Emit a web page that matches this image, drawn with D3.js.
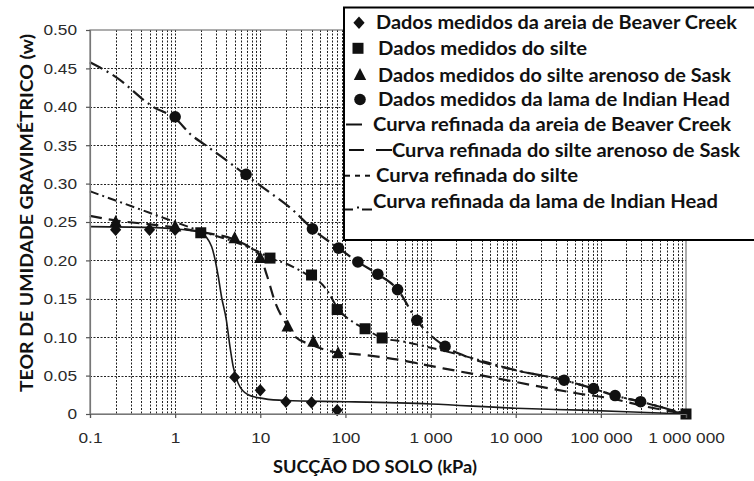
<!DOCTYPE html>
<html>
<head>
<meta charset="utf-8">
<script src="https://cdn.jsdelivr.net/npm/d3@7"></script>
<style>
  html, body { margin: 0; padding: 0; background: #fff; }
  svg { display: block; }
</style>
</head>
<body>
<svg id="chart" width="754" height="481"></svg>
<script>
// Tick labels
const xTickValues = [0.1, 1, 10, 100, 1000, 10000, 100000, 1000000];
const xTickLabels = ["0.1", "1", "10", "100", "1 000", "10 000", "100 000", "1 000 000"];
const yTickValues = [0, 0.05, 0.10, 0.15, 0.20, 0.25, 0.30, 0.35, 0.40, 0.45, 0.50];
const yTickLabels = ["0", "0.05", "0.10", "0.15", "0.20", "0.25", "0.30", "0.35", "0.40", "0.45", "0.50"];

// Measured data (suction kPa, gravimetric water content)
const beaverSuction = [0.2, 0.5, 1, 5, 10, 20, 40, 80];
const beaverW       = [0.240, 0.240, 0.240, 0.048, 0.031, 0.016, 0.015, 0.005];
const silteSuction  = [2, 13, 40, 80, 170, 270, 1000000];
const silteW        = [0.236, 0.203, 0.181, 0.136, 0.111, 0.099, 0.0];
const saskSuction   = [0.2, 1, 5, 10, 21, 42, 82];
const saskW         = [0.250, 0.244, 0.229, 0.203, 0.114, 0.094, 0.079];
const indianSuction = [1, 6.8, 41, 83, 140, 240, 410, 690, 1480, 37000, 82000, 147000, 293000];
const indianW       = [0.387, 0.312, 0.241, 0.216, 0.198, 0.182, 0.162, 0.122, 0.088, 0.044, 0.033, 0.024, 0.016];

// Fitted curves
const beaverFitSuction = [0.1, 0.5, 1, 1.5, 2, 2.68, 3.2, 3.5, 4.0, 4.4, 4.8, 5.5, 7.2, 11, 20, 100, 1000, 10000, 60000, 200000, 1000000];
const beaverFitW       = [0.244, 0.243, 0.241, 0.239, 0.236, 0.218, 0.180, 0.153, 0.122, 0.088, 0.062, 0.040, 0.025, 0.020, 0.0175, 0.016, 0.013, 0.0075, 0.005, 0.003, 0.0];
const saskFitSuction = [0.1, 0.2, 0.5, 1, 2, 5, 8, 10, 12, 15, 20, 25, 40, 80, 130, 460, 860, 1400, 6000, 19300, 52000, 128000, 345000, 1000000];
const saskFitW       = [0.258, 0.252, 0.247, 0.243, 0.237, 0.227, 0.215, 0.205, 0.180, 0.145, 0.118, 0.102, 0.090, 0.080, 0.078, 0.070, 0.064, 0.0595, 0.0465, 0.0356, 0.027, 0.0204, 0.0095, 0.0];
const silteFitSuction = [0.1, 0.2, 0.5, 1, 2, 5, 10, 13, 20, 28, 40, 50, 60, 82, 130, 170, 270, 500, 950, 2600, 10000, 37000, 82000, 147000, 293000, 1000000];
const silteFitW       = [0.290, 0.278, 0.262, 0.250, 0.238, 0.224, 0.210, 0.203, 0.196, 0.188, 0.178, 0.172, 0.162, 0.137, 0.118, 0.111, 0.099, 0.094, 0.087, 0.075, 0.057, 0.044, 0.033, 0.024, 0.016, 0.0];
const indianFitSuction = [0.1, 0.2, 0.55, 1, 1.56, 2.14, 3.5, 6.8, 10.4, 25.6, 41, 83, 140, 240, 410, 690, 1480, 2600, 10000, 37000, 82000, 147000, 293000, 1000000];
const indianFitW       = [0.458, 0.439, 0.400, 0.385, 0.363, 0.352, 0.335, 0.311, 0.296, 0.263, 0.241, 0.216, 0.198, 0.182, 0.162, 0.122, 0.088, 0.075, 0.057, 0.044, 0.033, 0.024, 0.016, 0.0];

const legendLabels = [
  "Dados medidos da areia de Beaver Creek",
  "Dados medidos do silte",
  "Dados medidos do silte arenoso de Sask",
  "Dados medidos da lama de Indian Head",
  "Curva refinada da areia de Beaver Creek",
  "Curva refinada do silte arenoso de Sask",
  "Curva refinada do silte",
  "Curva refinada da lama de Indian Head"
];

const svg = d3.select("#chart");
const plotL = 90, plotR = 686, plotT = 30, plotB = 414;

const x = d3.scaleLog().domain([0.1, 1000000]).range([plotL, plotR]);
const y = d3.scaleLinear().domain([0, 0.5]).range([plotB, plotT]);

const ink = "#111";
const zip = (a, b) => a.map((v, i) => [v, b[i]]);

// Grid
const grid = svg.append("g").attr("stroke", "#222").attr("stroke-width", 1)
  .attr("stroke-dasharray", "2,1.5").attr("fill", "none");
const minorX = [];
for (let e = -1; e <= 5; e++) {
  for (let m = 1; m <= 9; m++) {
    const v = m * Math.pow(10, e);
    if (v > 0.1 && v < 1000000) minorX.push(v);
  }
}
grid.selectAll("line.vx").data(minorX).join("line")
  .attr("x1", d => Math.round(x(d)) + 0.5).attr("x2", d => Math.round(x(d)) + 0.5)
  .attr("y1", plotT).attr("y2", plotB);
grid.selectAll("line.hy").data(yTickValues.filter(v => v > 0 && v < 0.5)).join("line")
  .attr("y1", d => Math.round(y(d)) + 0.5).attr("y2", d => Math.round(y(d)) + 0.5)
  .attr("x1", plotL).attr("x2", plotR);

// Frame
svg.append("rect").attr("x", plotL).attr("y", plotT)
  .attr("width", plotR - plotL).attr("height", plotB - plotT)
  .attr("fill", "none").attr("stroke", "#777").attr("stroke-width", 1.2);

// Curves
const line = d3.line().x(d => x(d[0])).y(d => y(d[1])).curve(d3.curveMonotoneX);
const curves = [
  { data: zip(beaverFitSuction, beaverFitW), dash: null, w: 1.6 },
  { data: zip(saskFitSuction, saskFitW), dash: "12,7", w: 2.2 },
  { data: zip(silteFitSuction, silteFitW), dash: "9,4,2,4", w: 2.0 },
  { data: zip(indianFitSuction, indianFitW), dash: "14,5,2,5", w: 2.2 }
];
svg.append("g").selectAll("path").data(curves).join("path")
  .attr("d", d => line(d.data))
  .attr("fill", "none").attr("stroke", "#1a1a1a")
  .attr("stroke-width", d => d.w)
  .attr("stroke-dasharray", d => d.dash);

// Marker shapes
const shapes = {
  diamond: (cx, cy) => `M${cx},${cy - 6.2}L${cx + 5.6},${cy}L${cx},${cy + 6.2}L${cx - 5.6},${cy}Z`,
  square: (cx, cy) => `M${cx - 5.5},${cy - 5.5}h11v11h-11Z`,
  triangle: (cx, cy) => `M${cx},${cy - 7}L${cx + 6.2},${cy + 5}L${cx - 6.2},${cy + 5}Z`,
  circle: (cx, cy) => `M${cx - 5.8},${cy}a5.8,5.8 0 1,0 11.6,0a5.8,5.8 0 1,0 -11.6,0Z`
};
const markerSets = [
  { data: zip(saskSuction, saskW), shape: "triangle" },
  { data: zip(indianSuction, indianW), shape: "circle" },
  { data: zip(silteSuction, silteW), shape: "square" },
  { data: zip(beaverSuction, beaverW), shape: "diamond" }
];
const mg = svg.append("g").attr("fill", ink);
markerSets.forEach(s => {
  mg.append("g").selectAll("path").data(s.data).join("path")
    .attr("d", d => shapes[s.shape](x(d[0]), y(d[1])));
});

// Axes
const yAxis = d3.axisLeft(y).tickValues(yTickValues)
  .tickFormat((d, i) => yTickLabels[i]).tickSize(4).tickPadding(9);
const gy = svg.append("g").attr("transform", `translate(${plotL},0)`).call(yAxis);
const xAxis = d3.axisBottom(x).tickValues(xTickValues)
  .tickFormat((d, i) => xTickLabels[i]).tickSize(4).tickPadding(14);
const gx = svg.append("g").attr("transform", `translate(0,${plotB})`).call(xAxis);
[gx, gy].forEach(g => {
  g.select(".domain").attr("stroke", "#777").attr("stroke-width", 1.2);
  g.selectAll(".tick line").attr("stroke", "#555").attr("stroke-width", 1.2);
  g.selectAll(".tick text")
    .style("font-family", "'Liberation Sans', Arial, sans-serif")
    .style("font-size", "15px").attr("fill", "#2a2a2a");
});
// labels are set a little wider than the plain face
[gx, gy].forEach(g => g.selectAll(".tick text").each(function () {
  const w = this.getBBox().width;
  if (w > 0) d3.select(this).attr("textLength", (w * 1.15).toFixed(1)).attr("lengthAdjust", "spacingAndGlyphs");
}));

// Axis titles
svg.append("text")
  .attr("transform", `translate(33,${213}) rotate(-90)`)
  .attr("text-anchor", "middle")
  .attr("font-family", "Lato, sans-serif").attr("font-weight", 700).attr("font-size", 16.5)
  .attr("fill", ink)
  .attr("textLength", 358).attr("lengthAdjust", "spacingAndGlyphs")
  .text("TEOR DE UMIDADE GRAVIMÉTRICO (w)");
svg.append("text")
  .attr("x", 375).attr("y", 473)
  .attr("text-anchor", "middle")
  .attr("font-family", "Lato, sans-serif").attr("font-weight", 700).attr("font-size", 16.5)
  .attr("fill", ink)
  .attr("textLength", 204).attr("lengthAdjust", "spacingAndGlyphs")
  .text("SUCÇÃO DO SOLO (kPa)");

// Legend
const lg = svg.append("g");
lg.append("rect").attr("x", 344).attr("y", 7.5).attr("width", 420).attr("height", 232.5)
  .attr("fill", "#fff").attr("stroke", "#000").attr("stroke-width", 2);

const rowY = [22.7, 48.3, 75, 99.5, 124.5, 150, 175.7, 201.5];
const textX = [376, 378, 378, 378, 373, 392, 376, 373];
const textEnd = [737, 587, 731, 730, 731, 740, 578, 718];
lg.selectAll("text").data(legendLabels).join("text")
  .attr("x", (d, i) => textX[i]).attr("y", (d, i) => rowY[i] + 6.5)
  .attr("font-family", "Lato, sans-serif").attr("font-weight", 700).attr("font-size", 18)
  .attr("fill", ink)
  .attr("textLength", (d, i) => textEnd[i] - textX[i]).attr("lengthAdjust", "spacingAndGlyphs")
  .text(d => d);

const legendShapes = ["diamond", "square", "triangle", "circle"];
const legendShapeX = [359, 358, 360, 360];
lg.selectAll("path.sym").data(legendShapes).join("path")
  .attr("fill", ink)
  .attr("d", (d, i) => shapes[d](legendShapeX[i], rowY[i]));

// Line keys for the fitted curves
const keySegs = [
  [[346, 362, rowY[4]]],
  [[349, 364, rowY[5]], [376, 392, rowY[5]]],
  [[345, 350, rowY[6]], [355, 360, rowY[6]], [365, 370, rowY[6]]],
  [[345, 353, rowY[7] + 8], [357, 359, rowY[7] + 6], [362, 372, rowY[7] + 8]]
];
keySegs.forEach(segs => segs.forEach(s => {
  lg.append("line").attr("x1", s[0]).attr("x2", s[1]).attr("y1", s[2]).attr("y2", s[2])
    .attr("stroke", ink).attr("stroke-width", 2);
}));
</script>
</body>
</html>
